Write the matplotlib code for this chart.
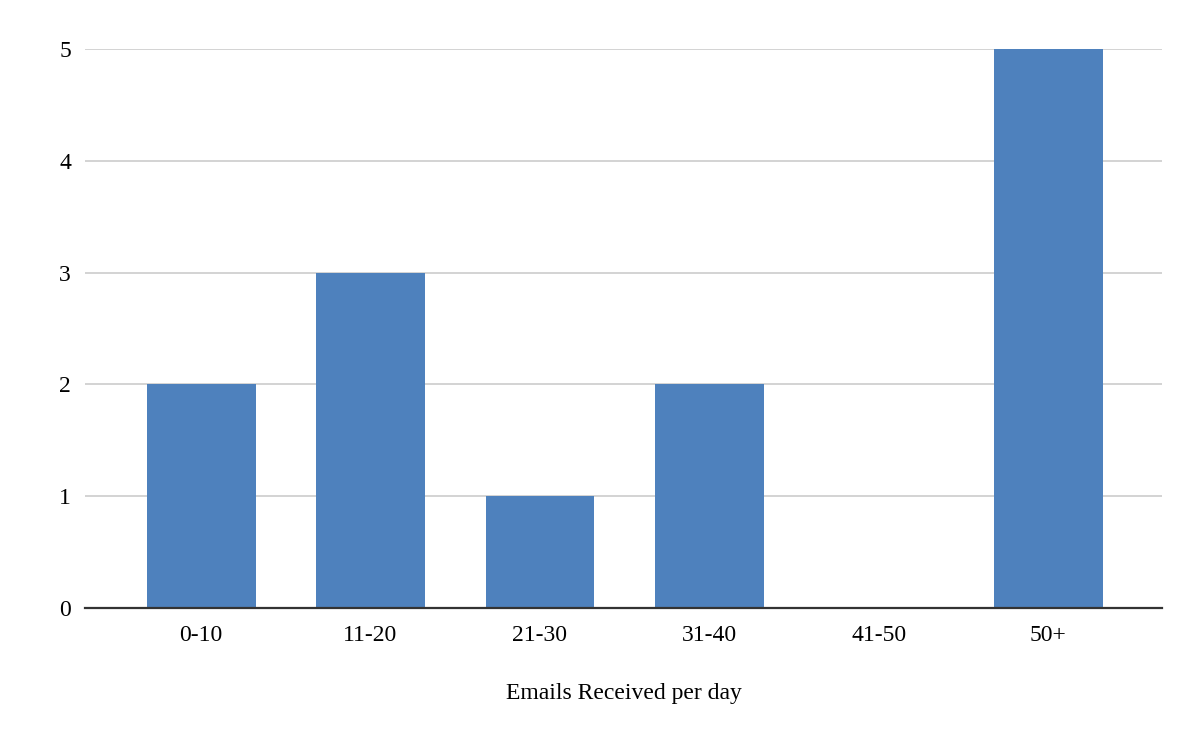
import matplotlib
matplotlib.use('Agg')
import matplotlib.pyplot as plt

categories = ['0-10', '11-20', '21-30', '31-40', '41-50', '50+']
counts = [2, 3, 1, 2, 0, 5]
y_ticks = [0, 1, 2, 3, 4, 5]

plt.rcParams['font.family'] = ['Liberation Serif', 'DejaVu Serif']

fig = plt.figure(figsize=(12, 7.42), dpi=100)
ax = fig.add_axes([0.0708, 0.1806, 0.8975, 0.7534])

x = list(range(len(categories)))
ax.bar(x, counts, width=0.643, color='#4E81BD', zorder=3)

ax.set_xlim(-0.685, 5.67)
ax.set_ylim(0, 5)
ax.set_yticks(y_ticks)
ax.set_xticks(x)
ax.set_xticklabels(categories)
ax.tick_params(axis='both', length=0, labelsize=17, colors='#000000')
ax.tick_params(axis='y', pad=10)
ax.tick_params(axis='x', pad=12)

ax.grid(axis='y', color='#cccccc', linewidth=1.2, zorder=0)
for side in ['top', 'right', 'left']:
    ax.spines[side].set_visible(False)
ax.spines['bottom'].set_color('#333333')
ax.spines['bottom'].set_linewidth(1.6)
ax.spines['bottom'].set_zorder(4)

ax.set_xlabel('Emails Received per day', fontsize=17, labelpad=27)

fig.savefig('out.png', dpi=100, facecolor='white')
